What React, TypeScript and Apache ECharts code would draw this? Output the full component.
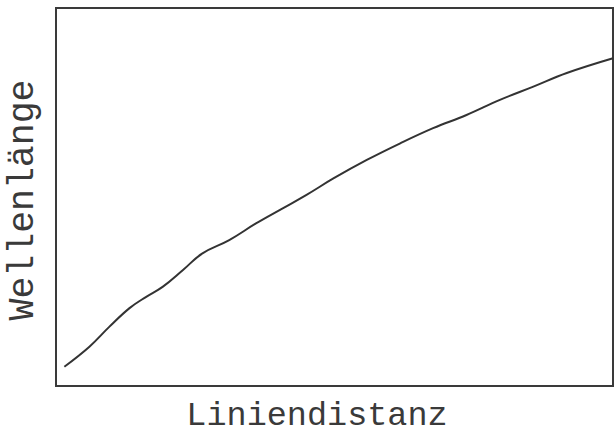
import React, { useEffect, useRef } from "react";
import * as echarts from "echarts";

const xValues = [1.5, 6.0, 9.6, 13.2, 16.2, 19.2, 22.8, 26.3, 31.1, 35.9, 40.7, 44.9, 49.8, 55.8, 61.8, 67.7, 73.7, 79.7, 85.7, 91.7, 100];
const yValues = [5.1, 10.4, 15.7, 20.6, 23.6, 26.3, 30.7, 35.1, 38.6, 43.0, 47.0, 50.5, 54.9, 59.8, 64.2, 68.2, 71.7, 75.7, 79.2, 82.8, 86.7];
const xTitle = "Liniendistanz";
const yTitle = "Wellenlänge";

export default function App() {
  const ref = useRef<HTMLDivElement>(null);
  useEffect(() => {
    if (!ref.current) return;
    const chart = echarts.init(ref.current, null, { renderer: "svg" });
    const font = '"Courier New", "Liberation Mono", monospace';
    chart.setOption({
      animation: false,
      backgroundColor: "#ffffff",
      grid: {
        left: 56,
        top: 8,
        right: 1,
        bottom: 50,
        show: true,
        borderColor: "#3a3a3a",
        borderWidth: 2,
      },
      xAxis: {
        type: "value",
        min: 0,
        max: 100,
        axisLine: { show: false },
        axisTick: { show: false },
        axisLabel: { show: false },
        splitLine: { show: false },
      },
      yAxis: {
        type: "value",
        min: 0,
        max: 100,
        axisLine: { show: false },
        axisTick: { show: false },
        axisLabel: { show: false },
        splitLine: { show: false },
      },
      series: [
        {
          type: "line",
          data: xValues.map((x, i) => [x, yValues[i]]),
          smooth: 0.4,
          showSymbol: false,
          lineStyle: { color: "#333333", width: 2 },
        },
      ],
      graphic: [
        {
          type: "text",
          x: 317,
          y: 416,
          style: {
            text: xTitle,
            font: `33.5px ${font}`,
            fill: "#3a3a3a",
            align: "center",
            verticalAlign: "middle",
          },
        },
        {
          type: "text",
          x: 23,
          y: 200,
          rotation: Math.PI / 2,
          style: {
            text: yTitle,
            font: `36.5px ${font}`,
            fill: "#3a3a3a",
            align: "center",
            verticalAlign: "middle",
          },
        },
      ],
    });
    return () => chart.dispose();
  }, []);
  return (
    <div
      ref={ref}
      style={{ position: "absolute", left: 0, top: 0, width: 614, height: 436 }}
    />
  );
}
